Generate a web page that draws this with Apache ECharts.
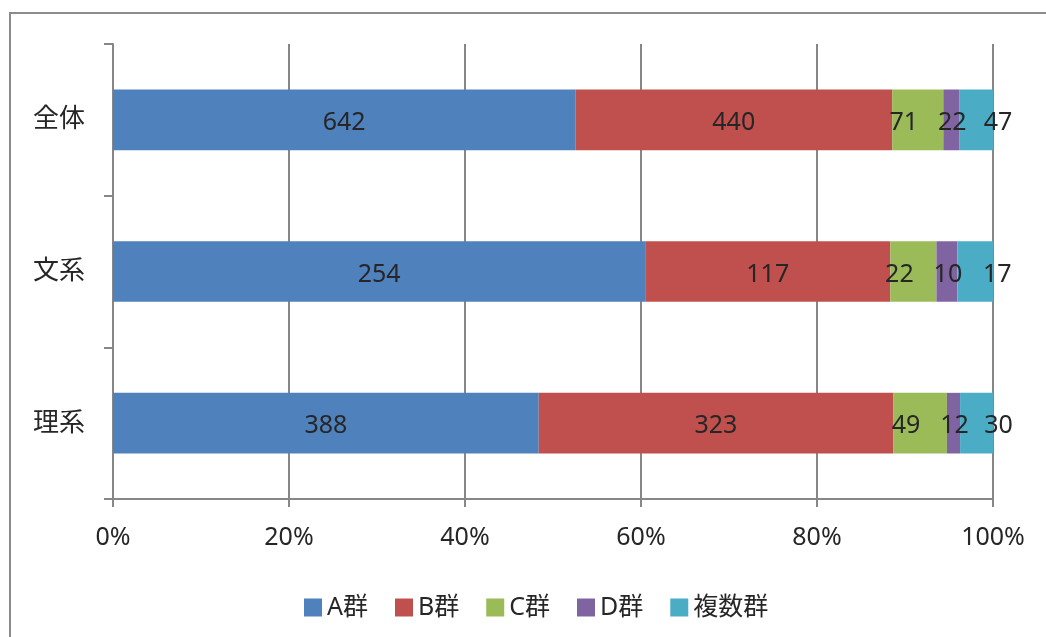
<!DOCTYPE html>
<html><head><meta charset="utf-8">
<script src="https://cdn.jsdelivr.net/npm/echarts@6/dist/echarts.min.js"></script>
<style>html,body{margin:0;padding:0;background:#fff}#c{width:1046px;height:637px}</style>
</head><body><div id="c"></div>
<script>
const categories = ['全体', '文系', '理系'];
const seriesNames = ['A群', 'B群', 'C群', 'D群', '複数群'];
const groupA = [642, 254, 388];
const groupB = [440, 117, 323];
const groupC = [71, 22, 49];
const groupD = [22, 10, 12];
const groupMulti = [47, 17, 30];
const xTicks = [0, 20, 40, 60, 80, 100];

const raw = [groupA, groupB, groupC, groupD, groupMulti];
const colors = ['#4F81BD', '#C0504D', '#9BBB59', '#8064A2', '#4BACC6'];
const labelOffsets = [[0,3],[0,3],[-14,3],[1,3],[22,3]];
const totals = categories.map((_, i) => raw.reduce((s, arr) => s + arr[i], 0));
const FONT = '"Noto Sans", "Noto Sans CJK JP", sans-serif';
const gray = '#878787';

const chart = echarts.init(document.getElementById('c'), null, {renderer: 'canvas'});
chart.setOption({
  animation: false,
  backgroundColor: '#fff',
  textStyle: {fontFamily: FONT},
  graphic: [{
    type: 'rect', shape: {x: 10, y: 13, width: 1100, height: 700},
    style: {fill: 'none', stroke: '#8c8c8c', lineWidth: 2}, silent: true, z: -10
  }],
  grid: {left: 113, right: 53, top: 44, bottom: 138, containLabel: false},
  legend: {
    left: 299, top: 590, itemWidth: 18, itemHeight: 18, itemGap: 27,
    icon: 'rect',
    data: seriesNames,
    textStyle: {fontFamily: FONT, fontSize: 25, color: '#262626'}
  },
  xAxis: {
    type: 'value', min: xTicks[0], max: xTicks[xTicks.length - 1], interval: 20,
    axisLine: {show: true, lineStyle: {color: gray, width: 2}},
    axisTick: {show: true, length: 8, lineStyle: {color: gray, width: 2}},
    splitLine: {show: true, lineStyle: {color: gray, width: 2}},
    axisLabel: {formatter: '{value}%', fontSize: 25, color: '#262626', margin: 26, fontFamily: FONT}
  },
  yAxis: {
    type: 'category', inverse: true, data: categories,
    axisLine: {show: true, lineStyle: {color: gray, width: 2}},
    axisTick: {show: true, length: 9, lineStyle: {color: gray, width: 2}},
    axisLabel: {fontSize: 26, color: '#262626', margin: 28, fontFamily: FONT}
  },
  series: seriesNames.map((name, k) => ({
    name, type: 'bar', stack: 'total', barWidth: '40%',
    itemStyle: {color: colors[k]},
    label: {
      show: true, position: 'inside', offset: labelOffsets[k],
      fontSize: 25, color: '#262626', fontFamily: FONT,
      formatter: p => String(raw[k][p.dataIndex])
    },
    data: raw[k].map((v, i) => v / totals[i] * 100)
  }))
});
</script></body></html>
